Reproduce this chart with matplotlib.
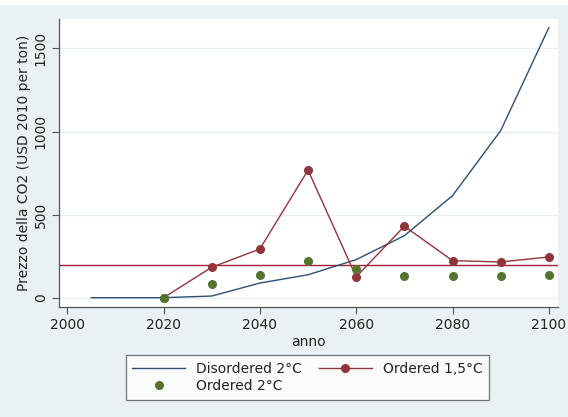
import matplotlib
matplotlib.use("Agg")
import matplotlib.pyplot as plt
from matplotlib.lines import Line2D

# Data
years_dis = [2005, 2020, 2030, 2040, 2050, 2060, 2070, 2080, 2090, 2100]
disordered_2c = [0, 0, 10, 88, 138, 229, 373, 614, 1005, 1625]

years_ord = [2020, 2030, 2040, 2050, 2060, 2070, 2080, 2090, 2100]
ordered_15c = [0, 183, 293, 768, 125, 430, 223, 215, 245]
ordered_2c = [0, 84, 137, 223, 171, 131, 131, 131, 138]

ref_line = 195

xticks = [2000, 2020, 2040, 2060, 2080, 2100]
yticks = [0, 500, 1000, 1500]

BG = "#eaf1f3"
BLUE = "#2e4f70"
RED = "#90353b"
GREEN = "#55752f"
HLINE = "#a3203a"

plt.rcParams['font.family'] = ['DejaVu Sans']
fig = plt.figure(figsize=(5.68, 4.17), dpi=100, facecolor=BG)
# white strip at the top (cropped artifact)
fig.patches.append(plt.Rectangle((0, 1 - 5/417), 1, 5/417, transform=fig.transFigure,
                                 facecolor="white", edgecolor="none", zorder=0))

ax = fig.add_axes([59/568, 1 - 307/417, (558 - 59)/568, (307 - 19)/417])
ax.set_facecolor("white")

ax.plot(years_dis, disordered_2c, color=BLUE, lw=1.0, zorder=3)
ax.plot(years_ord, ordered_15c, color=RED, lw=1.0, marker='o', ms=5.5,
        markerfacecolor=RED, markeredgecolor=RED, zorder=4)
ax.plot(years_ord, ordered_2c, linestyle='none', marker='o', ms=5.5,
        markerfacecolor=GREEN, markeredgecolor=GREEN, zorder=5)
ax.axhline(ref_line, color=HLINE, lw=1.0, zorder=2)

ax.set_xlim(1998.3, 2101.9)
ax.set_ylim(-56, 1677)
ax.set_xticks(xticks)
ax.set_yticks(yticks)
ax.set_yticklabels([str(v) for v in yticks], rotation=90, va='center')
ax.tick_params(axis='both', direction='out', length=5, width=0.8, color='#555555',
               labelsize=10, labelcolor='#222222', pad=3)
ax.grid(axis='y', color='#e6eef0', lw=0.9, zorder=0)
ax.grid(axis='x', visible=False)
for s in ['top', 'right']:
    ax.spines[s].set_visible(False)
for s in ['left', 'bottom']:
    ax.spines[s].set_color('#555555')
    ax.spines[s].set_linewidth(0.9)

ax.set_xlabel("anno", fontsize=10, color='#222222', labelpad=2)
ax.set_ylabel("Prezzo della CO2 (USD 2010 per ton)", fontsize=10, color='#222222', labelpad=2)

handles = [
    Line2D([], [], color=BLUE, lw=1.0),
    Line2D([], [], color=GREEN, ls='none', marker='o', ms=5.5),
    Line2D([], [], color=RED, lw=1.0, marker='o', ms=5.5),
]
labels = ["Disordered 2°C", "Ordered 2°C", "Ordered 1,5°C"]
leg = fig.legend(handles, labels, ncol=2, loc='center', bbox_to_anchor=(307.5/568, 1 - 377.5/417),
                 fontsize=10, frameon=True, fancybox=False, edgecolor='#555555',
                 handlelength=3.8, handletextpad=0.8, columnspacing=1.2,
                 labelspacing=0.25, borderpad=0.5)
leg.get_frame().set_linewidth(0.9)
leg.get_frame().set_facecolor('white')
for t in leg.get_texts():
    t.set_color('#222222')

fig.savefig("out.png", dpi=100, facecolor=BG)
